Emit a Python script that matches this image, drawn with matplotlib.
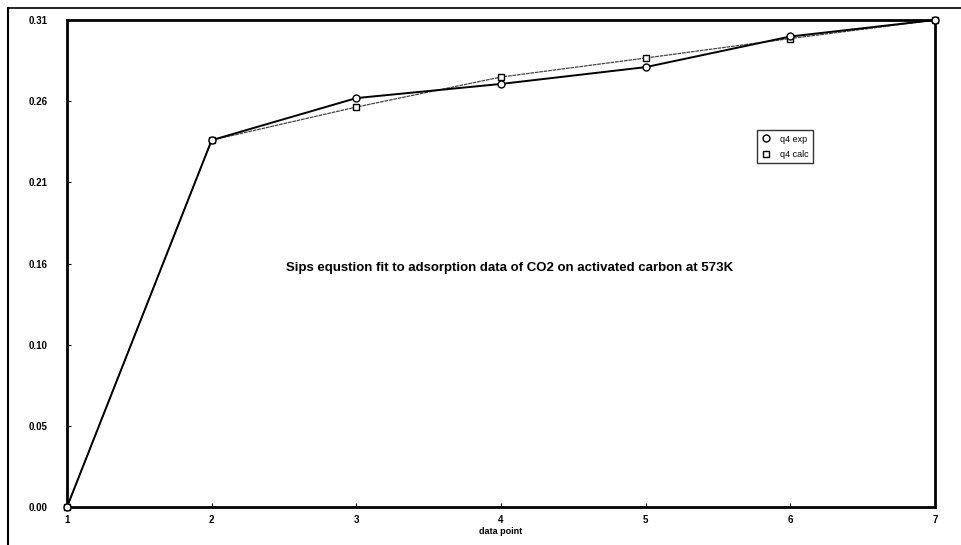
import matplotlib.pyplot as plt
import numpy as np
from matplotlib.lines import Line2D

# puntos medidos y ajuste de Sips
data_point = [1, 2, 3, 4, 5, 6, 7]
q4_exp = [0.0, 0.2335, 0.2603, 0.2693, 0.2800, 0.2995, 0.3100]
q4_calc = [0.0, 0.2335, 0.2546, 0.2737, 0.2858, 0.2982, 0.3100]

y_ticks = np.linspace(0, 0.31, 7)
y_labels = ['0.00', '0.05', '0.10', '0.16', '0.21', '0.26', '0.31']
titulo = "Sips equstion fit to adsorption data of CO2 on activated carbon at 573K"

plt.rcParams['font.family'] = ['Liberation Sans', 'DejaVu Sans']

fig = plt.figure(figsize=(9.61, 5.45), dpi=100)
ax = fig.add_axes([67 / 961, 1 - 507 / 545, 868 / 961, 487 / 545])

ax.plot(data_point, q4_exp, color='black', lw=1.4, marker='o', ms=5,
        mfc='white', mec='black', mew=1.0, label='q4 exp', zorder=3,
        clip_on=False)
ax.plot(data_point, q4_calc, color='#444444', lw=0.9, ls=(0, (3, 0.6)),
        marker='s', ms=4.5, mfc='white', mec='black', mew=1.0,
        label='q4 calc', zorder=2, clip_on=False)

ax.set_xlim(1, 7)
ax.set_ylim(0, 0.31)
ax.set_xticks(data_point)
ax.set_yticks(y_ticks)
ax.set_yticklabels(y_labels)
ax.tick_params(direction='in', length=3, width=0.8, labelsize=7, pad=6)
ax.tick_params(axis='y', pad=14)
for lab in ax.get_xticklabels() + ax.get_yticklabels():
    lab.set_fontweight('bold')

for s in ax.spines.values():
    s.set_linewidth(2.0)

ax.set_xlabel('data point', fontsize=6.5, fontweight='bold', labelpad=1)

ax.text(0.51, 0.49, titulo, transform=ax.transAxes, ha='center', va='center',
        fontsize=9.5, fontweight='bold')

leg = ax.legend(loc='upper left', bbox_to_anchor=(690 / 868, 1 - 110 / 487),
                fontsize=6.5, frameon=True, fancybox=False, edgecolor='black',
                handlelength=1.0, handletextpad=1.0, borderpad=0.5,
                labelspacing=0.7, borderaxespad=0)
leg.get_frame().set_linewidth(1.0)
for h in leg.legend_handles:
    h.set_linestyle('none')

# marco exterior del área del gráfico
fig.add_artist(Line2D([8 / 961, 8 / 961], [0, 1 - 8 / 545], color='black',
                      lw=1.5, transform=fig.transFigure))
fig.add_artist(Line2D([8 / 961, 1], [1 - 8 / 545, 1 - 8 / 545], color='black',
                      lw=1.2, transform=fig.transFigure))

fig.savefig('out.png', dpi=100)
